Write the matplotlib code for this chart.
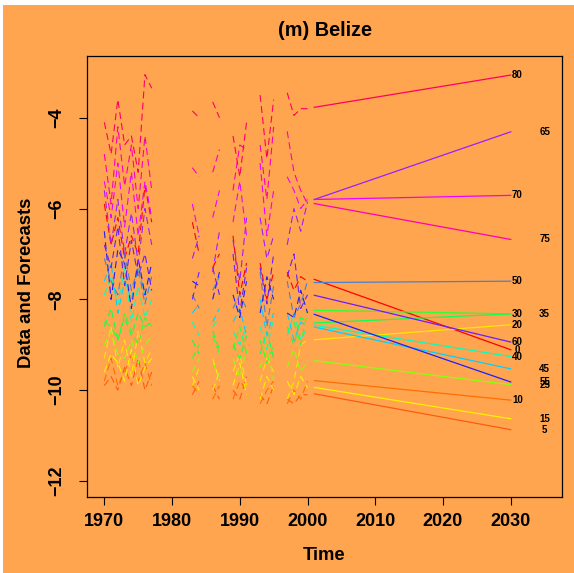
import numpy as np
import pandas as pd
import matplotlib
matplotlib.use('Agg')
import matplotlib.pyplot as plt
from matplotlib.patches import Rectangle

plt.rcParams['font.family'] = ['Liberation Sans', 'DejaVu Sans']
plt.rcParams['font.weight'] = 'bold'
plt.rcParams['lines.scale_dashes'] = False

# ages and observed years (gaps are missing years)
ages = [0, 5, 10, 15, 20, 25, 30, 35, 40, 45, 50, 55, 60, 65, 70, 75, 80]
obs_years = [1970, 1971, 1972, 1973, 1974, 1975, 1976, 1977,
             1983, 1984, 1986, 1987, 1989, 1990, 1991,
             1993, 1994, 1995, 1997, 1998, 1999, 2000]

# log rates, one list per age
age_0 = [-5.9, -6.8, -6.2, -7.1, -6.6, -7.0, -5.5, -6.3, -6.3, -7.0, -7.3, -7.0,
         -6.6, -7.9, -7.2, -7.2, -8.0, -7.4, -7.4, -7.8, -7.5, -7.6]
age_5 = [-9.9, -9.7, -10.0, -9.5, -9.9, -9.3, -10.0, -9.6, -10.1, -9.8, -9.9, -10.2,
         -10.0, -10.2, -9.7, -10.1, -10.3, -9.9, -10.2, -10.3, -10.1, -10.1]
age_10 = [-9.8, -9.3, -9.9, -9.6, -9.2, -9.8, -9.4, -9.9, -9.9, -10.1, -10.2, -9.9,
          -10.2, -9.8, -10.0, -10.3, -10.0, -9.8, -10.3, -10.0, -10.2, -9.8]
age_15 = [-9.6, -9.2, -9.4, -9.8, -9.1, -9.9, -9.5, -9.3, -9.7, -10.0, -10.0, -9.6,
          -9.9, -9.4, -10.1, -10.2, -9.7, -10.0, -9.8, -10.1, -9.7, -9.95]
age_20 = [-9.3, -8.6, -9.5, -8.9, -9.7, -8.7, -9.4, -9.1, -9.9, -9.5, -9.3, -9.8,
          -9.6, -9.2, -9.9, -9.8, -9.3, -9.6, -10.2, -9.8, -9.0, -8.9]
age_25 = [-9.0, -8.7, -9.2, -9.3, -8.9, -9.4, -9.0, -8.8, -9.6, -9.3, -9.4, -9.7,
          -9.3, -9.7, -9.1, -9.5, -9.0, -9.8, -9.5, -9.1, -9.6, -9.35]
age_30 = [-8.5, -8.6, -8.9, -8.3, -8.7, -9.0, -8.4, -8.6, -9.3, -9.0, -8.8, -9.2,
          -9.1, -8.6, -9.2, -8.9, -9.4, -9.0, -8.7, -8.5, -9.0, -8.25]
age_35 = [-8.6, -8.2, -8.9, -8.4, -8.8, -8.3, -8.6, -8.5, -8.9, -9.2, -8.7, -9.1,
          -9.0, -9.3, -8.8, -9.2, -8.7, -9.3, -8.6, -9.0, -8.4, -8.5]
age_40 = [-7.9, -7.5, -8.1, -7.3, -8.5, -7.7, -8.4, -8.0, -8.5, -8.8, -8.6, -8.4,
          -8.7, -9.0, -8.6, -8.6, -9.1, -8.4, -8.8, -8.3, -8.9, -8.6]
age_45 = [-7.6, -7.2, -8.3, -7.6, -8.0, -7.3, -7.9, -7.8, -8.3, -8.1, -8.5, -8.2,
          -8.5, -8.2, -8.8, -8.0, -8.8, -8.3, -8.3, -8.9, -8.5, -8.6]
age_50 = [-7.1, -7.6, -7.9, -7.0, -7.8, -7.3, -8.1, -7.5, -7.9, -8.2, -7.8, -7.5,
          -8.2, -7.9, -8.2, -7.4, -8.6, -7.7, -7.6, -8.4, -8.1, -7.6]
age_55 = [-6.5, -8.0, -6.9, -7.2, -8.2, -7.1, -7.9, -7.2, -7.6, -7.7, -8.0, -7.4,
          -7.9, -8.4, -7.6, -8.3, -7.5, -8.0, -8.3, -8.4, -7.8, -8.3]
age_60 = [-6.8, -7.3, -6.4, -7.7, -6.7, -7.5, -7.0, -7.8, -8.0, -7.4, -7.3, -7.9,
          -7.0, -8.3, -7.3, -7.3, -8.1, -7.0, -7.5, -7.0, -8.2, -7.9]
age_65 = [-5.6, -6.8, -5.8, -7.0, -6.1, -7.2, -6.0, -6.8, -7.1, -6.6, -7.4, -6.5,
          -6.7, -7.6, -6.2, -6.2, -7.1, -6.6, -6.8, -6.0, -6.5, -5.85]
age_70 = [-5.4, -6.2, -5.0, -6.4, -5.2, -6.6, -5.4, -6.2, -5.9, -6.6, -6.2, -5.6,
          -6.3, -5.4, -6.6, -5.0, -6.6, -5.6, -5.3, -5.6, -6.0, -5.8]
age_75 = [-4.8, -5.9, -4.2, -5.5, -4.6, -6.0, -4.4, -5.6, -5.1, -5.3, -5.2, -4.7,
          -5.6, -4.6, -4.7, -4.6, -5.8, -4.2, -4.3, -5.2, -5.6, -5.9]
age_80 = [-4.1, -4.8, -3.6, -4.6, -4.4, -5.2, -3.05, -3.35, -3.85, -4.0, -3.65, -4.0,
          -4.4, -5.3, -4.1, -3.5, -4.9, -3.6, -3.45, -3.95, -3.8, -3.8]

observed = [age_0, age_5, age_10, age_15, age_20, age_25, age_30, age_35, age_40,
            age_45, age_50, age_55, age_60, age_65, age_70, age_75, age_80]

# forecasts: value at 2001 and at 2030
fc_start = [-7.56, -10.08, -9.79, -9.94, -8.89, -9.35, -8.24, -8.52, -8.57,
            -8.61, -7.63, -8.33, -7.91, -5.80, -5.80, -5.89, -3.77]
fc_end = [-9.11, -10.87, -10.22, -10.63, -8.56, -9.88, -8.32, -8.32, -9.26,
          -9.53, -7.60, -9.82, -8.94, -4.31, -5.71, -6.68, -3.06]

colors = ['#FF0000', '#FF5A10', '#FF6E00', '#FFF000', '#FFE600', '#8CFF10',
          '#30FF30', '#10FF50', '#00FFC0', '#00D2FF', '#4A80D0', '#1E1EFF',
          '#6A1EFF', '#9A20FF', '#F000FF', '#FF00B4', '#FF0060']

bg = '#FFA54F'
fig = plt.figure(figsize=(5.74, 5.73), dpi=100, facecolor='white')
fig.patches.append(Rectangle((3 / 574, 0), 1, 568 / 573, transform=fig.transFigure,
                             facecolor=bg, edgecolor='none', zorder=-1))
ax = fig.add_axes([86.7 / 574, (573 - 497.3) / 573, 475.5 / 574, 441.3 / 573])
ax.set_facecolor(bg)

full_years = range(1970, 2001)
for vals, col in zip(observed, colors):
    s = pd.Series(vals, index=obs_years).reindex(full_years)
    ax.plot(s.index, s.values, color=col, lw=0.8, ls=(0, (5, 3)))

for i, age in enumerate(ages):
    ax.plot([2001, 2030], [fc_start[i], fc_end[i]], color=colors[i], lw=0.9)
    lx = 2031 if i % 2 == 0 else 2035
    ax.text(lx, fc_end[i], str(age), fontsize=7, fontweight='bold',
            ha='center', va='center')

ax.set_xlim(1967.4, 2037.6)
ax.set_ylim(-12.36, -2.64)
ax.set_xticks([1970, 1980, 1990, 2000, 2010, 2020, 2030])
ax.set_yticks([-12, -10, -8, -6, -4])
ax.tick_params(length=5.5, width=0.8, labelsize=13)
ax.tick_params(axis='x', pad=5.5)
ax.tick_params(axis='y', pad=10, labelrotation=90)
for lab in ax.get_yticklabels():
    lab.set_va('center')
for sp in ax.spines.values():
    sp.set_linewidth(0.9)

fig.text(324.5 / 574, 1 - 31 / 573, '(m) Belize', ha='center', va='center',
         fontsize=14.3, fontweight='bold')
fig.text(324.5 / 574, 1 - 555 / 573, 'Time', ha='center', va='center',
         fontsize=13.3, fontweight='bold')
fig.text(27 / 574, 1 - 283 / 573, 'Data and Forecasts', ha='center', va='center',
         rotation=90, fontsize=13.3, fontweight='bold')

fig.savefig('out.png', dpi=100, facecolor=fig.get_facecolor())
